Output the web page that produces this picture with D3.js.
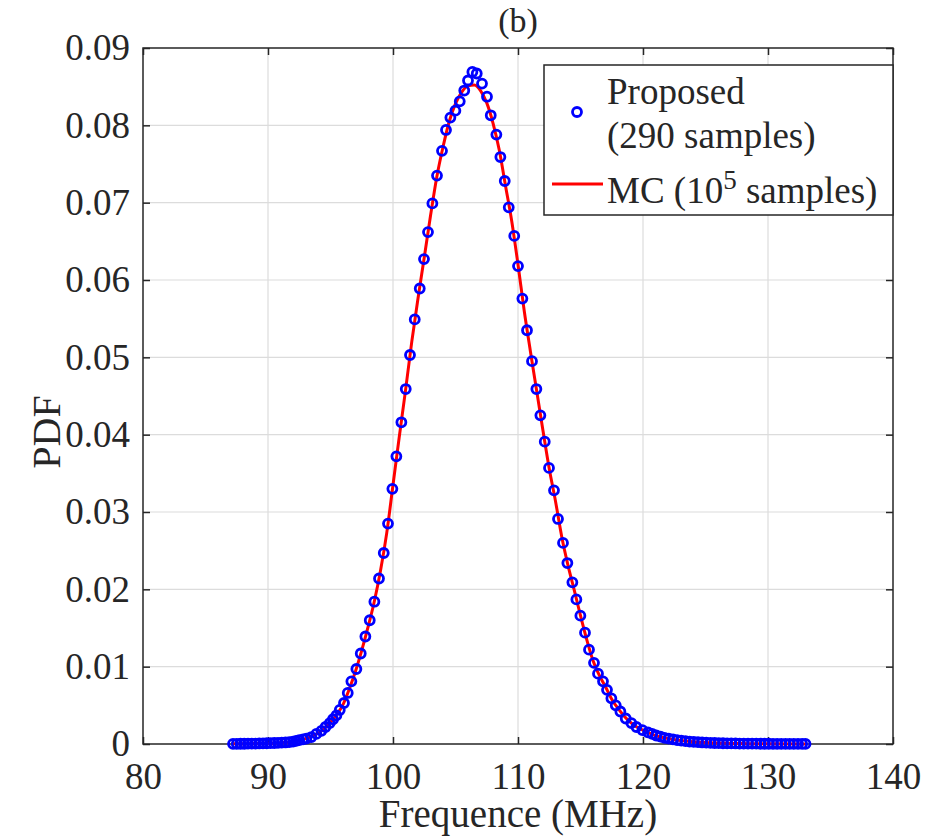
<!DOCTYPE html>
<html>
<head>
<meta charset="utf-8">
<script src="https://cdn.jsdelivr.net/npm/d3@7"></script>
<style>
  body { margin: 0; background: #fff; }
  text { font-family: "Liberation Serif", "Times New Roman", serif; fill: #262626; }
</style>
</head>
<body>
<div id="chart"></div>
<script>
// Proposed (290 samples) - circles
var propX = [87.2, 87.5, 87.8, 88.1, 88.4, 88.7, 89.0, 89.3, 89.6, 89.9, 90.2, 90.5, 90.8, 91.1, 91.4, 91.7, 92.0, 92.25, 92.5, 92.8, 93.07, 93.47, 93.87, 94.27, 94.6, 94.94, 95.2, 95.47, 95.74, 96.08, 96.38, 96.67, 97.07, 97.42, 97.79, 98.14, 98.51, 98.88, 99.26, 99.6, 99.95, 100.27, 100.67, 101.02, 101.36, 101.74, 102.14, 102.48, 102.8, 103.15, 103.52, 103.92, 104.24, 104.59, 104.99, 105.34, 105.7, 106.0, 106.35, 106.7, 107.12, 107.52, 107.82, 108.27, 108.59, 108.94, 109.26, 109.7, 110.0, 110.35, 110.72, 111.12, 111.47, 111.79, 112.14, 112.48, 112.88, 113.2, 113.6, 113.95, 114.35, 114.67, 114.99, 115.36, 115.68, 116.08, 116.4, 116.8, 117.12, 117.47, 117.82, 118.19, 118.62, 119.07, 119.47, 119.95, 120.4, 120.73, 121.06, 121.4, 121.73, 122.06, 122.4, 122.73, 123.06, 123.4, 123.73, 124.06, 124.4, 124.73, 125.06, 125.4, 125.73, 126.06, 126.4, 126.73, 127.06, 127.4, 127.73, 128.06, 128.4, 128.73, 129.06, 129.4, 129.73, 130.06, 130.4, 130.73, 131.06, 131.4, 131.73, 132.06, 132.4, 132.73, 133.0];
var propY = [0.00002, 0.00002, 0.00003, 0.00003, 0.00004, 0.00005, 0.00006, 0.00007, 0.00008, 0.0001, 0.00011, 0.00013, 0.00015, 0.00018, 0.0002, 0.00025, 0.0003, 0.0004, 0.0005, 0.0006, 0.0007, 0.0009, 0.0013, 0.0017, 0.0022, 0.0027, 0.0032, 0.0037, 0.0044, 0.0053, 0.0066, 0.0081, 0.0097, 0.0117, 0.0139, 0.0160, 0.0184, 0.0214, 0.0247, 0.0285, 0.0330, 0.0372, 0.0416, 0.0459, 0.0503, 0.0549, 0.0589, 0.0627, 0.0662, 0.0699, 0.0735, 0.0767, 0.0794, 0.0810, 0.0819, 0.0831, 0.0845, 0.0858, 0.0869, 0.0867, 0.0854, 0.0837, 0.0813, 0.0788, 0.0759, 0.0728, 0.0694, 0.0657, 0.0618, 0.0576, 0.0535, 0.0495, 0.0459, 0.0425, 0.0391, 0.0357, 0.0328, 0.0291, 0.0260, 0.0234, 0.0209, 0.0187, 0.0166, 0.0144, 0.0122, 0.0105, 0.0091, 0.0081, 0.0070, 0.0059, 0.0050, 0.0042, 0.0033, 0.0027, 0.0022, 0.0018, 0.0015, 0.0013, 0.0011, 0.00095, 0.0008, 0.0007, 0.0006, 0.0005, 0.00043, 0.00037, 0.00032, 0.00028, 0.00024, 0.0002, 0.00017, 0.00015, 0.00013, 0.00011, 0.0001, 0.00009, 0.00008, 0.00007, 0.00006, 0.00005, 0.00005, 0.00004, 0.00004, 0.00003, 0.00003, 0.00003, 0.00002, 0.00002, 0.00002, 0.00002, 0.00001, 0.00001, 0.00001, 0.00001, 0.00001];

// MC (10^5 samples) - red line
var mcX = [87.2, 88, 89, 90, 91, 92, 92.5, 93, 93.5, 94, 94.5, 95, 95.5, 96, 96.5, 97, 97.5, 98, 98.5, 99, 99.5, 100, 100.5, 101, 101.5, 102, 102.5, 103, 103.5, 104, 104.5, 105, 105.5, 106, 106.5, 107, 107.5, 108, 108.5, 109, 109.5, 110, 110.5, 111, 111.5, 112, 112.5, 113, 113.5, 114, 114.5, 115, 115.5, 116, 116.5, 117, 117.5, 118, 118.5, 119, 119.5, 120, 121, 122, 123, 124, 125, 126, 127, 128, 130, 133];
var mcY = [0.00002, 0.00003, 0.00006, 0.0001, 0.00017, 0.0003, 0.0005, 0.0007, 0.001, 0.0014, 0.002, 0.0028, 0.0038, 0.0051, 0.0071, 0.0094, 0.0121, 0.0151, 0.0184, 0.0224, 0.0273, 0.0335, 0.0397, 0.0457, 0.0520, 0.0576, 0.0629, 0.0683, 0.0733, 0.0772, 0.0805, 0.0828, 0.0843, 0.0851, 0.0852, 0.0845, 0.0829, 0.0803, 0.0768, 0.0722, 0.0676, 0.0620, 0.0560, 0.0507, 0.0456, 0.0405, 0.0356, 0.0314, 0.0268, 0.0231, 0.0199, 0.0166, 0.0135, 0.0108, 0.0089, 0.0074, 0.0058, 0.0046, 0.0036, 0.0028, 0.0022, 0.0018, 0.0011, 0.0007, 0.00045, 0.00029, 0.00018, 0.00012, 0.00008, 0.00005, 0.00003, 0.00001];

var xTicks = [80, 90, 100, 110, 120, 130, 140];
var yTicks = [0, 0.01, 0.02, 0.03, 0.04, 0.05, 0.06, 0.07, 0.08, 0.09];

var width = 931, height = 838;
var plotL = 143, plotR = 893, plotT = 48, plotB = 744;

var svg = d3.select("#chart").append("svg")
  .attr("width", width).attr("height", height);

var x = d3.scaleLinear().domain([80, 140]).range([plotL, plotR]);
var y = d3.scaleLinear().domain([0, 0.09]).range([plotB, plotT]);

// grid
svg.append("g").selectAll("line").data(xTicks.slice(1, -1)).enter().append("line")
  .attr("x1", d => x(d)).attr("x2", d => x(d))
  .attr("y1", plotT).attr("y2", plotB)
  .attr("stroke", "#dcdcdc").attr("stroke-width", 1.2);
svg.append("g").selectAll("line").data(yTicks.slice(1, -1)).enter().append("line")
  .attr("x1", plotL).attr("x2", plotR)
  .attr("y1", d => y(d)).attr("y2", d => y(d))
  .attr("stroke", "#dcdcdc").attr("stroke-width", 1.2);

// axes (inward ticks)
var fmtY = d => d === 0 ? "0" : d3.format(".2f")(d);
var xAxis = svg.append("g").attr("transform", "translate(0," + plotB + ")")
  .call(d3.axisBottom(x).tickValues(xTicks).tickSizeInner(-7).tickSizeOuter(0).tickPadding(19));
var xTop = svg.append("g").attr("transform", "translate(0," + plotT + ")")
  .call(d3.axisTop(x).tickValues(xTicks).tickSizeInner(-7).tickSizeOuter(0).tickFormat(""));
var yAxis = svg.append("g").attr("transform", "translate(" + plotL + ",0)")
  .call(d3.axisLeft(y).tickValues(yTicks).tickFormat(fmtY).tickSizeInner(-7).tickSizeOuter(0).tickPadding(13));
var yRight = svg.append("g").attr("transform", "translate(" + plotR + ",0)")
  .call(d3.axisRight(y).tickValues(yTicks).tickSizeInner(-7).tickSizeOuter(0).tickFormat(""));

[xAxis, xTop, yAxis, yRight].forEach(function(g) {
  g.select(".domain").remove();
  g.selectAll("line").attr("stroke", "#262626").attr("stroke-width", 1.5);
  g.selectAll("text").style("font-family", "Liberation Serif, serif").style("font-size", "37px").attr("fill", "#262626");
});
xAxis.selectAll("text").attr("dy", "0.71em");

svg.append("rect")
  .attr("x", plotL).attr("y", plotT)
  .attr("width", plotR - plotL).attr("height", plotB - plotT)
  .attr("fill", "none").attr("stroke", "#262626").attr("stroke-width", 1.5);

// MC line
var line = d3.line().x((d, i) => x(mcX[i])).y(d => y(d)).curve(d3.curveMonotoneX);
svg.append("path").attr("d", line(mcY))
  .attr("fill", "none").attr("stroke", "#ff0000").attr("stroke-width", 3);

// Proposed circles
svg.append("g").selectAll("circle").data(propY).enter().append("circle")
  .attr("cx", (d, i) => x(propX[i])).attr("cy", d => y(d))
  .attr("r", 4.5)
  .attr("fill", "none").attr("stroke", "#0000ff").attr("stroke-width", 2.8);

// labels
svg.append("text").attr("x", (plotL + plotR) / 2).attr("y", 827)
  .attr("text-anchor", "middle").style("font-size", "39px").text("Frequence (MHz)");
svg.append("text").attr("transform", "translate(60,432) rotate(-90)")
  .attr("text-anchor", "middle").style("font-size", "40px").text("PDF");
svg.append("text").attr("x", (plotL + plotR) / 2).attr("y", 32)
  .attr("text-anchor", "middle").style("font-size", "34px").text("(b)");

// legend
var lg = svg.append("g");
lg.append("rect").attr("x", 544).attr("y", 65).attr("width", 349).attr("height", 150)
  .attr("fill", "#fff").attr("stroke", "#262626").attr("stroke-width", 1.5);
lg.append("circle").attr("cx", 577).attr("cy", 112).attr("r", 4.5)
  .attr("fill", "none").attr("stroke", "#0000ff").attr("stroke-width", 2.8);
lg.append("line").attr("x1", 552).attr("x2", 603).attr("y1", 184).attr("y2", 184)
  .attr("stroke", "#ff0000").attr("stroke-width", 3);
lg.append("text").attr("x", 607).attr("y", 104).style("font-size", "37px").text("Proposed");
lg.append("text").attr("x", 607).attr("y", 148).style("font-size", "37px").text("(290 samples)");
var mc = lg.append("text").attr("x", 607).attr("y", 203).style("font-size", "37px");
mc.append("tspan").text("MC (10");
mc.append("tspan").attr("dy", -14).style("font-size", "27px").text("5");
mc.append("tspan").attr("dy", 14).text(" samples)");
</script>
</body>
</html>
